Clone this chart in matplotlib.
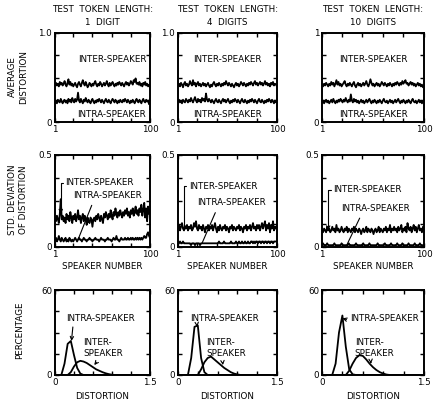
import numpy as np
import matplotlib
matplotlib.use("Agg")
import matplotlib.pyplot as plt

plt.rcParams['font.family'] = ['DejaVu Sans']

# ---------------- data ----------------
speakers = list(range(1, 101))

avg_inter_1 = [0.42,0.44,0.41,0.43,0.40,0.45,0.42,0.44,0.41,0.43,
0.46,0.42,0.40,0.44,0.48,0.42,0.45,0.41,0.43,0.40,
0.42,0.44,0.41,0.39,0.43,0.45,0.42,0.40,0.44,0.47,
0.43,0.41,0.45,0.42,0.39,0.41,0.44,0.42,0.40,0.43,
0.41,0.44,0.46,0.42,0.40,0.43,0.41,0.45,0.43,0.40,
0.42,0.44,0.41,0.43,0.46,0.42,0.40,0.44,0.41,0.43,
0.45,0.42,0.40,0.43,0.41,0.44,0.42,0.45,0.43,0.41,
0.44,0.42,0.40,0.43,0.45,0.42,0.44,0.41,0.43,0.46,
0.44,0.42,0.47,0.45,0.49,0.43,0.44,0.42,0.45,0.41,
0.43,0.40,0.44,0.42,0.45,0.41,0.43,0.40,0.42,0.41]
avg_intra_1 = [0.22,0.24,0.21,0.25,0.23,0.22,0.26,0.23,0.21,0.24,
0.25,0.22,0.24,0.21,0.26,0.23,0.25,0.22,0.27,0.24,
0.22,0.26,0.23,0.25,0.33,0.24,0.22,0.26,0.23,0.21,
0.25,0.23,0.27,0.24,0.22,0.25,0.23,0.21,0.24,0.26,
0.23,0.21,0.24,0.22,0.25,0.23,0.26,0.24,0.22,0.25,
0.23,0.21,0.24,0.26,0.23,0.22,0.25,0.23,0.21,0.24,
0.26,0.24,0.22,0.25,0.23,0.21,0.24,0.22,0.25,0.23,
0.22,0.25,0.23,0.26,0.24,0.22,0.25,0.23,0.21,0.24,
0.22,0.25,0.23,0.21,0.24,0.26,0.23,0.22,0.25,0.23,
0.21,0.24,0.26,0.23,0.22,0.25,0.23,0.24,0.20,0.26]
avg_inter_4 = [0.41,0.43,0.40,0.44,0.42,0.39,0.43,0.45,0.41,0.43,
0.40,0.42,0.46,0.43,0.41,0.47,0.42,0.44,0.40,0.43,
0.45,0.41,0.43,0.40,0.42,0.44,0.41,0.43,0.40,0.42,
0.44,0.41,0.39,0.42,0.40,0.43,0.45,0.42,0.40,0.43,
0.41,0.44,0.42,0.40,0.43,0.41,0.44,0.42,0.46,0.43,
0.41,0.44,0.42,0.40,0.43,0.41,0.39,0.42,0.44,0.41,
0.43,0.40,0.42,0.45,0.43,0.41,0.44,0.42,0.40,0.43,
0.41,0.44,0.42,0.45,0.43,0.41,0.44,0.46,0.42,0.44,
0.41,0.43,0.45,0.42,0.44,0.41,0.43,0.46,0.42,0.44,
0.41,0.43,0.40,0.44,0.42,0.45,0.41,0.43,0.42,0.40]
avg_intra_4 = [0.23,0.25,0.22,0.24,0.21,0.25,0.23,0.22,0.26,0.24,
0.22,0.25,0.23,0.27,0.24,0.22,0.25,0.28,0.24,0.22,
0.26,0.23,0.25,0.22,0.27,0.24,0.26,0.23,0.32,0.25,
0.23,0.26,0.24,0.22,0.25,0.23,0.21,0.24,0.26,0.23,
0.22,0.25,0.23,0.21,0.24,0.26,0.23,0.25,0.22,0.24,
0.26,0.23,0.21,0.24,0.22,0.25,0.23,0.26,0.24,0.22,
0.25,0.23,0.21,0.24,0.26,0.23,0.22,0.25,0.23,0.21,
0.24,0.22,0.25,0.23,0.26,0.24,0.22,0.25,0.23,0.21,
0.24,0.26,0.23,0.22,0.25,0.23,0.21,0.24,0.22,0.25,
0.23,0.26,0.24,0.22,0.25,0.23,0.21,0.24,0.22,0.24]
avg_inter_10 = [0.42,0.40,0.43,0.41,0.44,0.42,0.40,0.43,0.41,0.45,
0.42,0.44,0.40,0.43,0.47,0.42,0.45,0.41,0.43,0.40,
0.42,0.44,0.46,0.42,0.40,0.43,0.41,0.44,0.42,0.40,
0.43,0.45,0.41,0.39,0.42,0.44,0.41,0.43,0.40,0.42,
0.44,0.41,0.43,0.46,0.42,0.40,0.43,0.48,0.44,0.41,
0.43,0.40,0.42,0.44,0.41,0.43,0.40,0.42,0.45,0.43,
0.41,0.44,0.42,0.40,0.43,0.41,0.44,0.42,0.40,0.43,
0.41,0.44,0.42,0.45,0.43,0.41,0.44,0.42,0.46,0.43,
0.45,0.47,0.43,0.44,0.41,0.43,0.45,0.42,0.44,0.41,
0.43,0.40,0.42,0.44,0.41,0.43,0.40,0.42,0.39,0.41]
avg_intra_10 = [0.22,0.24,0.21,0.23,0.25,0.22,0.24,0.21,0.23,0.25,
0.22,0.26,0.23,0.21,0.24,0.22,0.25,0.23,0.26,0.24,
0.22,0.25,0.23,0.27,0.24,0.22,0.25,0.23,0.31,0.24,
0.22,0.26,0.23,0.25,0.22,0.24,0.21,0.23,0.25,0.22,
0.24,0.21,0.23,0.25,0.22,0.24,0.26,0.23,0.21,0.24,
0.22,0.25,0.23,0.21,0.24,0.22,0.25,0.23,0.21,0.24,
0.26,0.23,0.22,0.24,0.21,0.23,0.25,0.22,0.24,0.21,
0.23,0.25,0.22,0.24,0.26,0.23,0.21,0.24,0.22,0.25,
0.23,0.21,0.24,0.22,0.25,0.23,0.21,0.24,0.26,0.23,
0.22,0.24,0.21,0.23,0.25,0.22,0.24,0.21,0.23,0.25]

std_inter_1 = [0.16,0.14,0.17,0.15,0.13,0.18,0.26,0.15,0.17,0.14,
0.16,0.13,0.18,0.15,0.17,0.14,0.19,0.16,0.13,0.17,
0.15,0.18,0.14,0.16,0.20,0.15,0.17,0.13,0.16,0.18,
0.14,0.17,0.15,0.12,0.16,0.14,0.13,0.16,0.15,0.11,
0.15,0.16,0.14,0.17,0.15,0.18,0.16,0.14,0.17,0.15,
0.13,0.18,0.16,0.19,0.17,0.15,0.18,0.16,0.20,0.17,
0.15,0.19,0.17,0.21,0.18,0.16,0.19,0.17,0.20,0.18,
0.16,0.19,0.17,0.20,0.18,0.21,0.17,0.19,0.16,0.20,
0.18,0.21,0.17,0.19,0.22,0.18,0.20,0.17,0.21,0.19,
0.23,0.17,0.20,0.24,0.16,0.21,0.14,0.22,0.18,0.20]
std_intra_1 = [0.04,0.05,0.03,0.04,0.06,0.04,0.03,0.05,0.04,0.03,
0.04,0.05,0.03,0.04,0.03,0.05,0.04,0.03,0.04,0.03,
0.04,0.05,0.04,0.03,0.04,0.05,0.04,0.04,0.03,0.04,
0.05,0.04,0.04,0.03,0.04,0.04,0.05,0.04,0.04,0.03,
0.04,0.04,0.05,0.04,0.04,0.04,0.03,0.04,0.05,0.04,
0.04,0.04,0.03,0.04,0.04,0.05,0.04,0.04,0.04,0.03,
0.04,0.05,0.04,0.04,0.06,0.04,0.04,0.03,0.04,0.05,
0.04,0.04,0.04,0.05,0.04,0.04,0.05,0.04,0.04,0.05,
0.04,0.05,0.04,0.04,0.05,0.04,0.05,0.04,0.05,0.04,
0.05,0.04,0.05,0.06,0.05,0.05,0.07,0.08,0.06,0.05]
std_inter_4 = [0.10,0.12,0.09,0.11,0.13,0.10,0.09,0.11,0.10,0.12,
0.09,0.11,0.10,0.12,0.09,0.10,0.13,0.11,0.14,0.10,
0.09,0.12,0.10,0.11,0.09,0.12,0.10,0.08,0.11,0.10,
0.12,0.09,0.11,0.10,0.12,0.09,0.11,0.13,0.10,0.08,
0.11,0.09,0.12,0.10,0.09,0.11,0.10,0.12,0.09,0.11,
0.10,0.08,0.11,0.10,0.12,0.09,0.11,0.10,0.09,0.11,
0.10,0.12,0.09,0.11,0.10,0.08,0.11,0.10,0.12,0.09,
0.11,0.10,0.12,0.09,0.11,0.13,0.10,0.11,0.09,0.12,
0.10,0.12,0.09,0.11,0.13,0.10,0.12,0.14,0.09,0.12,
0.10,0.13,0.08,0.12,0.10,0.14,0.09,0.11,0.10,0.12]
std_intra_4 = [0.03,0.02,0.03,0.02,0.02,0.03,0.02,0.02,0.02,0.02,
0.02,0.02,0.02,0.01,0.02,0.02,0.02,0.01,0.02,0.02,
0.02,0.02,0.01,0.02,0.02,0.02,0.02,0.02,0.02,0.02,
0.02,0.02,0.02,0.02,0.02,0.02,0.02,0.02,0.02,0.02,
0.02,0.03,0.02,0.02,0.02,0.02,0.03,0.02,0.02,0.02,
0.02,0.02,0.02,0.03,0.02,0.02,0.02,0.02,0.03,0.02,
0.02,0.03,0.02,0.02,0.03,0.02,0.02,0.03,0.02,0.02,
0.03,0.02,0.02,0.03,0.03,0.02,0.03,0.02,0.03,0.03,
0.02,0.03,0.03,0.02,0.03,0.03,0.02,0.03,0.03,0.02,
0.03,0.03,0.02,0.03,0.03,0.02,0.03,0.03,0.03,0.03]
std_inter_10 = [0.09,0.08,0.10,0.09,0.08,0.11,0.09,0.10,0.08,0.09,
0.11,0.09,0.10,0.08,0.12,0.09,0.10,0.08,0.09,0.11,
0.09,0.08,0.10,0.09,0.11,0.08,0.10,0.09,0.08,0.10,
0.09,0.11,0.08,0.10,0.09,0.08,0.10,0.09,0.07,0.09,
0.10,0.08,0.09,0.11,0.08,0.10,0.09,0.08,0.10,0.09,
0.07,0.09,0.10,0.08,0.09,0.11,0.08,0.10,0.09,0.08,
0.10,0.09,0.11,0.08,0.10,0.09,0.12,0.08,0.10,0.09,
0.11,0.09,0.10,0.08,0.11,0.09,0.10,0.12,0.08,0.10,
0.09,0.11,0.08,0.13,0.10,0.09,0.11,0.08,0.10,0.12,
0.09,0.11,0.08,0.10,0.12,0.09,0.10,0.08,0.11,0.09]
std_intra_10 = [0.01,0.02,0.01,0.01,0.01,0.02,0.01,0.01,0.01,0.01,
0.01,0.01,0.02,0.01,0.01,0.01,0.01,0.01,0.01,0.02,
0.01,0.01,0.01,0.01,0.01,0.01,0.02,0.01,0.01,0.01,
0.01,0.01,0.01,0.02,0.01,0.01,0.01,0.01,0.01,0.01,
0.02,0.01,0.01,0.01,0.01,0.01,0.02,0.01,0.01,0.01,
0.01,0.01,0.01,0.01,0.02,0.01,0.01,0.01,0.01,0.01,
0.01,0.02,0.01,0.01,0.01,0.01,0.01,0.02,0.01,0.01,
0.01,0.01,0.01,0.02,0.01,0.01,0.01,0.01,0.02,0.01,
0.01,0.01,0.01,0.01,0.02,0.01,0.01,0.01,0.01,0.01,
0.02,0.01,0.01,0.01,0.01,0.02,0.01,0.01,0.01,0.01]

dist_bins = [0.00,0.05,0.10,0.15,0.20,0.25,0.30,0.35,0.40,0.45,0.50,0.55,0.60,0.65,0.70,
             0.75,0.80,0.85,0.90,0.95,1.00,1.05,1.10,1.15,1.20,1.25,1.30,1.35,1.40,1.45,1.50]
pct_intra_1 = [0,0,0,8,22,24,14,5,1,0,0,0,0,0,0,0,0,0,0,0,0,0,0,0,0,0,0,0,0,0,0]
pct_inter_1 = [0,0,0,0,0,2,6,9,10,9.5,8.5,7,5.5,4,3,2,1.2,0.6,0.2,0,0,0,0,0,0,0,0,0,0,0,0]
pct_intra_4 = [0,0,0,0,12,34,35,12,2,0,0,0,0,0,0,0,0,0,0,0,0,0,0,0,0,0,0,0,0,0,0]
pct_inter_4 = [0,0,0,0,0,0,0,4,9,12,13,11,9,7,5,3.5,2,1,0.4,0,0,0,0,0,0,0,0,0,0,0,0]
pct_intra_10 = [0,0,0,0,8,30,42,20,4,0.5,0,0,0,0,0,0,0,0,0,0,0,0,0,0,0,0,0,0,0,0,0]
pct_inter_10 = [0,0,0,0,0,0,0,0,3,8,12,14,13.5,11,8,5.5,3.5,2,1,0.3,0,0,0,0,0,0,0,0,0,0,0]

col_titles = ["TEST  TOKEN  LENGTH:\n1  DIGIT", "TEST  TOKEN  LENGTH:\n4  DIGITS",
              "TEST  TOKEN  LENGTH:\n10  DIGITS"]

# ---------------- layout ----------------
W, H = 446, 405
fig = plt.figure(figsize=(W / 100, H / 100), dpi=100)
fig.patch.set_facecolor('white')

cols_px = [(55, 150), (178, 277), (322, 424)]
rows_px = [(33, 122), (155, 247), (290, 375)]

FS = 6.3
LW = 1.3

def make_ax(c, r):
    x0, x1 = cols_px[c]
    y0, y1 = rows_px[r]
    ax = fig.add_axes([x0 / W, 1 - y1 / H, (x1 - x0) / W, (y1 - y0) / H])
    for s in ax.spines.values():
        s.set_linewidth(1.4)
    ax.tick_params(direction='in', length=3, width=1.0, top=True, right=True,
                   labelsize=FS, pad=2)
    return ax

def style(ax, xlim, ylim, xt, yt, xlabels, ylabels):
    ax.set_xlim(*xlim)
    ax.set_ylim(*ylim)
    ax.set_xticks(xt)
    ax.set_yticks(yt)
    ax.set_xticklabels(xlabels)
    ax.set_yticklabels(ylabels)

avg = [(avg_inter_1, avg_intra_1), (avg_inter_4, avg_intra_4), (avg_inter_10, avg_intra_10)]
std = [(std_inter_1, std_intra_1), (std_inter_4, std_intra_4), (std_inter_10, std_intra_10)]
pct = [(pct_intra_1, pct_inter_1), (pct_intra_4, pct_inter_4), (pct_intra_10, pct_inter_10)]

xt_sp = [1, 20, 40, 60, 80, 100]
xl_sp = ['1', '', '', '', '', '100']
top_labels = ['1.0', '1.0', '1']

inter_x = [0.60, 0.50, 0.50]

for c in range(3):
    # row 1
    ax = make_ax(c, 0)
    inter, intra = avg[c]
    ax.plot(speakers, inter, color='black', lw=LW)
    ax.plot(speakers, intra, color='black', lw=LW)
    style(ax, (1, 100), (0, 1.0), xt_sp, [0, 0.25, 0.5, 0.75, 1.0], xl_sp,
          ['0', '', '', '', top_labels[c]])
    ax.text(inter_x[c], 0.70, "INTER-SPEAKER", transform=ax.transAxes,
            ha='center', va='center', fontsize=FS)
    ax.text(inter_x[c], 0.08, "INTRA-SPEAKER", transform=ax.transAxes,
            ha='center', va='center', fontsize=FS)
    ax.set_title(col_titles[c], fontsize=FS, pad=6, linespacing=1.5)

    # row 2
    ax = make_ax(c, 1)
    inter, intra = std[c]
    ax.plot(speakers, inter, color='black', lw=LW)
    ax.plot(speakers, intra, color='black', lw=LW)
    style(ax, (1, 100), (0, 0.5), xt_sp, [0, 0.125, 0.25, 0.375, 0.5], xl_sp,
          ['0', '', '', '', '0.5'])
    ax.set_xlabel("SPEAKER NUMBER", fontsize=FS, labelpad=2)
    y_int = [0.35, 0.33, 0.31][c]
    y_itr = [0.28, 0.24, 0.21][c]
    ax.annotate("INTER-SPEAKER", xy=(7, inter[6] if c else 0.18), xytext=(12, y_int),
                fontsize=FS, va='center', ha='left',
                arrowprops=dict(arrowstyle='->', lw=0.8, color='black',
                                connectionstyle='angle,angleA=0,angleB=90,rad=0',
                                shrinkA=0, shrinkB=0, mutation_scale=6))
    ax.annotate("INTRA-SPEAKER", xy=(25, intra[24]), xytext=(20, y_itr),
                fontsize=FS, va='center', ha='left',
                arrowprops=dict(arrowstyle='-', lw=0.8, color='black',
                                shrinkA=2, shrinkB=0, relpos=(0.3, 0)))

    # row 3
    ax = make_ax(c, 2)
    intra, inter = pct[c]
    ax.plot(dist_bins, intra, color='black', lw=LW)
    ax.plot(dist_bins, inter, color='black', lw=LW)
    style(ax, (0, 1.5), (0, 60), [0, 0.3, 0.6, 0.9, 1.2, 1.5], [0, 15, 30, 45, 60],
          ['0', '', '', '', '', '1.5'], ['0', '', '', '', '60'])
    ax.set_xlabel("DISTORTION", fontsize=FS, labelpad=4)
    intra_txt = [(0.18, 40), (0.18, 40), (0.42, 40)][c]
    intra_tip = [(0.26, 24), (0.29, 34), (0.30, 40)][c]
    inter_txt = [(0.45, 19), (0.43, 19), (0.48, 19)][c]
    inter_tip = [(0.62, 7), (0.68, 7), (0.72, 8)][c]
    ax.annotate("INTRA-SPEAKER", xy=intra_tip, xytext=intra_txt, fontsize=FS,
                va='center', ha='left',
                arrowprops=dict(arrowstyle='->', lw=0.8, color='black',
                                shrinkA=1, shrinkB=0, relpos=(0.1, 0), mutation_scale=6))
    ax.annotate("INTER-\nSPEAKER", xy=inter_tip, xytext=inter_txt, fontsize=FS,
                va='center', ha='left', linespacing=1.4,
                arrowprops=dict(arrowstyle='->', lw=0.8, color='black',
                                shrinkA=1, shrinkB=0, relpos=(0.4, 0), mutation_scale=6))

# row labels
fig.text(18 / W, 1 - 77 / H, "AVERAGE\nDISTORTION", rotation=90, ha='center',
         va='center', fontsize=FS, linespacing=1.4)
fig.text(18 / W, 1 - 200 / H, "STD. DEVIATION\nOF DISTORTION", rotation=90, ha='center',
         va='center', fontsize=FS, linespacing=1.4)
fig.text(20 / W, 1 - 330 / H, "PERCENTAGE", rotation=90, ha='center',
         va='center', fontsize=FS)

fig.savefig("out.png", dpi=100, facecolor='white')
